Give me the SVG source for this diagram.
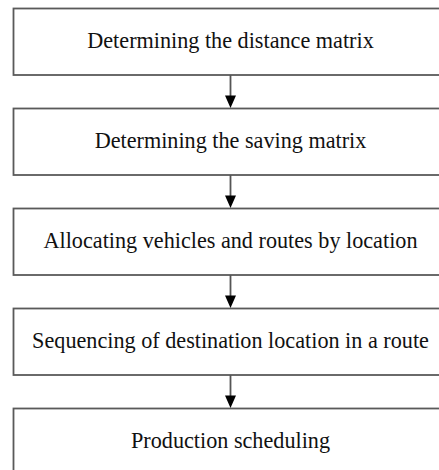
<svg xmlns="http://www.w3.org/2000/svg" width="439" height="470" viewBox="0 0 439 470">
<style>
.box{fill:#fff;stroke:#5a5a5a;stroke-width:1.8}
.lbl{font-family:"Liberation Serif","Times New Roman",serif;font-size:22.2px;fill:#111;text-anchor:middle}
.con{stroke:#555;stroke-width:1.8;fill:none}
.head{fill:#000}
</style>
<rect width="439" height="470" fill="#fff"/>
<g id="n1"><rect class="box" x="13.5" y="8.5" width="440" height="66.5"/><text class="lbl" x="230.5" y="48.3">Determining the distance matrix</text></g>
<g id="n2"><rect class="box" x="13.5" y="108.5" width="440" height="66.5"/><text class="lbl" x="230.5" y="148.3">Determining the saving matrix</text></g>
<g id="n3"><rect class="box" x="13.5" y="208.5" width="440" height="66.5"/><text class="lbl" x="230.5" y="248.3">Allocating vehicles and routes by location</text></g>
<g id="n4"><rect class="box" x="13.5" y="308.5" width="440" height="66.5"/><text class="lbl" x="230.5" y="348.3">Sequencing of destination location in a route</text></g>
<g id="n5"><rect class="box" x="13.5" y="408.5" width="440" height="66.5"/><text class="lbl" x="230.5" y="448.3">Production scheduling</text></g>
<g id="connectors">
<path class="con" d="M230.5 75V97M230.5 175V197M230.5 275V297M230.5 375V397"/>
<path class="head" d="M225 95.5H236L230.5 108ZM225 195.5H236L230.5 208ZM225 295.5H236L230.5 308ZM225 395.5H236L230.5 408Z"/>
</g>
</svg>
